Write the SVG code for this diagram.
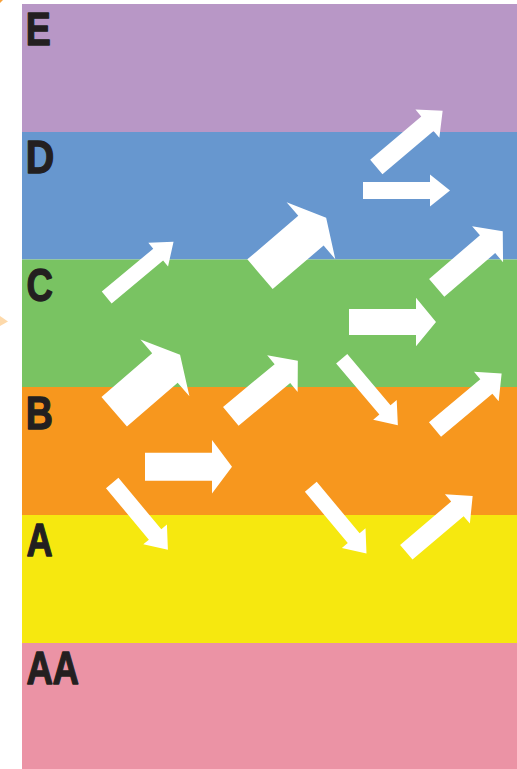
<svg xmlns="http://www.w3.org/2000/svg" width="517" height="769" viewBox="0 0 517 769">
<style>
.lbl{font-family:"Liberation Sans",Arial,sans-serif;font-weight:bold;font-size:47px;fill:#231F20;stroke:#231F20;stroke-width:1.3;stroke-linejoin:round}
.arr{fill:#FFFFFF}
</style>
<rect x="0" y="0" width="517" height="769" fill="#FFFFFF"/>
<polygon points="0,0 3,0 0,3" fill="#F7A23C"/>
<polygon points="0,316 8,321.5 0,326" fill="#FDD9AA"/>
<g id="band-E"><rect x="22" y="4" width="495" height="128" fill="#B897C6"/><text class="lbl" transform="translate(25.8,45) scale(0.8,1)">E</text></g>
<g id="band-D"><rect x="22" y="132" width="495" height="127.5" fill="#6797CF"/><text class="lbl" transform="translate(25.8,173) scale(0.84,1)">D</text></g>
<g id="band-C"><rect x="22" y="259.5" width="495" height="127.5" fill="#79C362"/><text class="lbl" transform="translate(26.5,301) scale(0.78,1)">C</text></g>
<g id="band-B"><rect x="22" y="387" width="495" height="128" fill="#F7971E"/><text class="lbl" transform="translate(25.8,428.5) scale(0.8,1)">B</text></g>
<g id="band-A"><rect x="22" y="515" width="495" height="128" fill="#F6E80F"/><text class="lbl" transform="translate(26.5,556) scale(0.77,1)">A</text></g>
<g id="band-AA"><rect x="22" y="643" width="495" height="126" fill="#EB93A5"/><text class="lbl" transform="translate(26.5,683.5) scale(0.78,1)" letter-spacing="-0.5">AA</text></g>
<g id="arrows">
<g id="arrow-a"><polygon class="arr" transform="translate(376.3,167) rotate(-40.3)" points="0,-9.5 67,-9.5 67,-18.5 87,0 67,18.5 67,9.5 0,9.5"/></g>
<g id="arrow-b"><polygon class="arr" transform="translate(260,274.2) rotate(-40.5)" points="0,-19.5 67,-19.5 67,-37.5 87,0 67,37.5 67,19.5 0,19.5"/></g>
<g id="arrow-c"><polygon class="arr" transform="translate(106.7,297.5) rotate(-39.8)" points="0,-7.7 67,-7.7 67,-15.4 87,0 67,15.4 67,7.7 0,7.7"/></g>
<g id="arrow-d"><polygon class="arr" transform="translate(114.2,411.7) rotate(-40.8)" points="0,-19.5 67,-19.5 67,-37.5 87,0 67,37.5 67,19.5 0,19.5"/></g>
<g id="arrow-e"><polygon class="arr" transform="translate(230.8,416.3) rotate(-39.6)" points="0,-12.2 67,-12.2 67,-23.9 87,0 67,23.9 67,12.2 0,12.2"/></g>
<g id="arrow-f"><polygon class="arr" transform="translate(436.7,287.8) rotate(-40.6)" points="0,-11.7 67,-11.7 67,-23.8 87,0 67,23.8 67,11.7 0,11.7"/></g>
<g id="arrow-g"><polygon class="arr" transform="translate(435,429.5) rotate(-40)" points="0,-9.4 67,-9.4 67,-19.2 87,0 67,19.2 67,9.4 0,9.4"/></g>
<g id="arrow-h"><polygon class="arr" transform="translate(406.3,552.2) rotate(-40.3)" points="0,-9.6 67,-9.6 67,-19.3 87,0 67,19.3 67,9.6 0,9.6"/></g>
<g id="arrow-i"><polygon class="arr" transform="translate(341.7,358.7) rotate(49.8)" points="0,-7.3 67,-7.3 67,-15.4 87,0 67,15.4 67,7.3 0,7.3"/></g>
<g id="arrow-j"><polygon class="arr" transform="translate(112.2,483) rotate(50.2)" points="0,-8.1 67,-8.1 67,-15.4 87,0 67,15.4 67,8.1 0,8.1"/></g>
<g id="arrow-k"><polygon class="arr" transform="translate(310.8,486.7) rotate(50.2)" points="0,-7.7 67,-7.7 67,-15.4 87,0 67,15.4 67,7.7 0,7.7"/></g>
<g id="arrow-dh"><polygon class="arr" transform="translate(363,190.5)" points="0,-8.5 67,-8.5 67,-16 87,0 67,16 67,8.5 0,8.5"/></g>
<g id="arrow-ch"><polygon class="arr" transform="translate(349,322)" points="0,-13 67,-13 67,-24.3 87,0 67,24.3 67,13 0,13"/></g>
<g id="arrow-bh"><polygon class="arr" transform="translate(145,466.7)" points="0,-14 67,-14 67,-26.7 87,0 67,26.7 67,14 0,14"/></g>
</g>
</svg>
